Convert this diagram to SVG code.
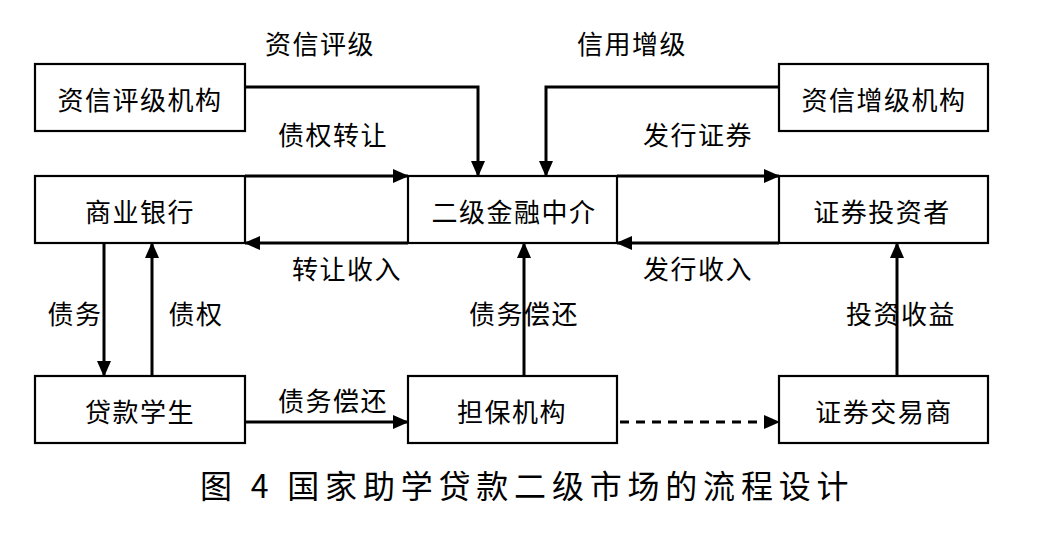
<svg xmlns="http://www.w3.org/2000/svg" width="1052" height="545" viewBox="0 0 1052 545">
<style>
.box{fill:#fff;stroke:#000;stroke-width:2.2}
.nt{font-family:"Noto Sans CJK SC","Noto Sans CJK JP",sans-serif;font-size:26px;letter-spacing:1.5px;text-anchor:middle;dominant-baseline:central;fill:#000}
.lb{font-family:"Noto Sans CJK SC","Noto Sans CJK JP",sans-serif;font-size:26px;letter-spacing:1.5px;text-anchor:middle;dominant-baseline:central;fill:#000}
.cap{font-family:"Noto Sans CJK SC","Noto Sans CJK JP",sans-serif;font-size:32px;letter-spacing:5.8px;fill:#000}
.ln{fill:none;stroke:#000;stroke-width:3;marker-end:url(#ah)}
.dash{stroke-dasharray:9 7}
</style>
<defs>
<marker id="ah" markerUnits="userSpaceOnUse" markerWidth="16" markerHeight="14" refX="15" refY="7" orient="auto">
<path d="M0,0 L16,7 L0,14 Z" fill="#000"/>
</marker>
</defs>
<rect width="1052" height="545" fill="#fff"/>
<g id="connectors">
<polyline class="ln" points="245,87 478,87 478,176"/>
<polyline class="ln" points="779,87 546,87 546,176"/>
<line class="ln" x1="245" y1="176" x2="408" y2="176"/>
<line class="ln" x1="408" y1="243" x2="245" y2="243"/>
<line class="ln" x1="617" y1="176" x2="779" y2="176"/>
<line class="ln" x1="779" y1="243" x2="617" y2="243"/>
<line class="ln" x1="104" y1="243" x2="104" y2="376"/>
<line class="ln" x1="152" y1="376" x2="152" y2="243"/>
<line class="ln" x1="524" y1="376" x2="524" y2="243"/>
<line class="ln" x1="897" y1="376" x2="897" y2="243"/>
<line class="ln" x1="245" y1="422" x2="408" y2="422"/>
<line class="ln dash" x1="620" y1="422" x2="779" y2="422"/>
</g>
<g id="labels">
<text class="lb" x="320" y="42">资信评级</text>
<text class="lb" x="632" y="42">信用增级</text>
<text class="lb" x="333" y="133">债权转让</text>
<text class="lb" x="698" y="133">发行证券</text>
<text class="lb" x="347" y="267">转让收入</text>
<text class="lb" x="698" y="267">发行收入</text>
<text class="lb" x="75" y="312">债务</text>
<text class="lb" x="196" y="312">债权</text>
<text class="lb" x="524" y="312">债务偿还</text>
<text class="lb" x="901" y="312">投资收益</text>
<text class="lb" x="333" y="399">债务偿还</text>
</g>
<g id="n-rating"><rect class="box" x="35" y="64" width="210" height="67"/><text class="nt" x="140" y="98">资信评级机构</text></g>
<g id="n-enhance"><rect class="box" x="779" y="64" width="209" height="67"/><text class="nt" x="884" y="98">资信增级机构</text></g>
<g id="n-bank"><rect class="box" x="35" y="176" width="210" height="67"/><text class="nt" x="140" y="210">商业银行</text></g>
<g id="n-inter"><rect class="box" x="408" y="176" width="209" height="67"/><text class="nt" x="514" y="210">二级金融中介</text></g>
<g id="n-investor"><rect class="box" x="779" y="176" width="209" height="67"/><text class="nt" x="882" y="210">证券投资者</text></g>
<g id="n-student"><rect class="box" x="35" y="376" width="210" height="67"/><text class="nt" x="140" y="410">贷款学生</text></g>
<g id="n-guarantor"><rect class="box" x="408" y="376" width="209" height="67"/><text class="nt" x="512" y="410">担保机构</text></g>
<g id="n-dealer"><rect class="box" x="779" y="376" width="209" height="67"/><text class="nt" x="884" y="410">证券交易商</text></g>
<text class="cap" x="200" y="498">图 4 国家助学贷款二级市场的流程设计</text>
</svg>
